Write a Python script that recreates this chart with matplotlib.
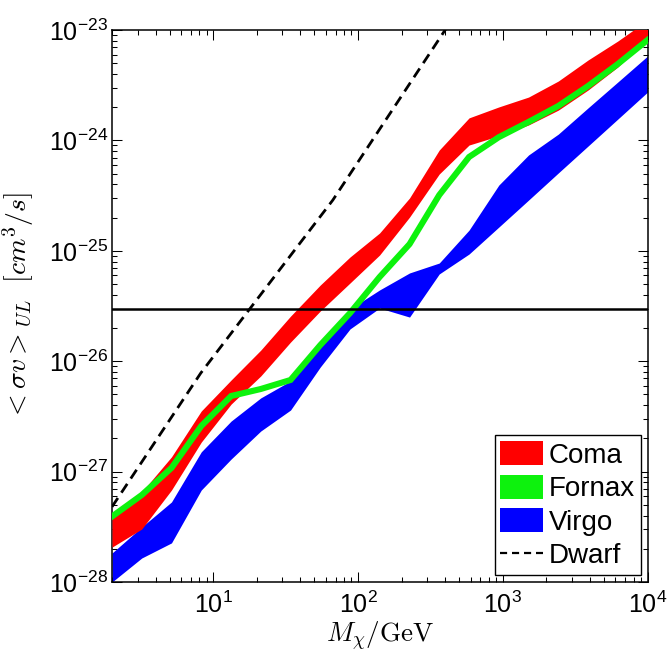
import matplotlib
matplotlib.use("Agg")
import matplotlib.pyplot as plt
from matplotlib.patches import Patch
from matplotlib.lines import Line2D

plt.rcParams['font.family'] = ['Liberation Sans', 'DejaVu Sans']
plt.rcParams['mathtext.fontset'] = 'custom'
plt.rcParams['mathtext.rm'] = 'Liberation Sans'
plt.rcParams['mathtext.it'] = 'Liberation Sans:italic'
plt.rcParams['mathtext.bf'] = 'Liberation Sans:bold'

# Dark matter mass grid (GeV)
mass = [2, 3.21, 5.15, 8.27, 13.3, 21.3, 34.2, 54.9, 88.1, 141, 227, 364,
        585, 939, 1507, 2418, 3881, 6230, 10000]

coma_upper = [3.80e-28, 6.53e-28, 1.36e-27, 3.54e-27, 6.76e-27, 1.26e-26,
              2.56e-26, 4.90e-26, 8.79e-26, 1.45e-25, 3.01e-25, 8.18e-25,
              1.60e-24, 2.01e-24, 2.47e-24, 3.45e-24, 5.35e-24, 7.95e-24, 1.23e-23]
coma_lower = [2.07e-28, 3.02e-28, 6.81e-28, 1.85e-27, 4.09e-27, 7.35e-27,
              1.49e-26, 2.85e-26, 5.11e-26, 9.16e-26, 2.02e-25, 4.96e-25,
              9.08e-25, 1.10e-24, 1.38e-24, 1.88e-24, 2.86e-24, 4.62e-24, 8.47e-24]

fornax = [3.92e-28, 6.14e-28, 1.08e-27, 2.59e-27, 4.84e-27, 5.60e-27,
          6.76e-27, 1.40e-26, 2.73e-26, 5.79e-26, 1.15e-25, 3.20e-25,
          7.08e-25, 1.07e-24, 1.47e-24, 2.05e-24, 3.11e-24, 4.92e-24, 8.12e-24]

virgo_upper = [1.83e-28, 3.15e-28, 5.31e-28, 1.51e-27, 2.87e-27, 4.65e-27,
               6.62e-27, 1.46e-26, 2.97e-26, 4.42e-26, 6.30e-26, 7.75e-26,
               1.54e-25, 3.94e-25, 7.38e-25, 1.14e-24, 1.97e-24, 3.38e-24, 5.81e-24]
virgo_lower = [1.00e-28, 1.65e-28, 2.26e-28, 6.81e-28, 1.30e-27, 2.33e-27,
               3.61e-27, 8.86e-27, 1.96e-26, 3.03e-26, 2.51e-26, 6.17e-26,
               9.35e-26, 1.64e-25, 2.88e-25, 5.07e-25, 8.89e-25, 1.56e-24, 2.74e-24]

dwarf_mass = [2, 8.2, 67, 500]
dwarf_sv = [4.8e-28, 7.8e-27, 2.88e-25, 1.56e-23]

thermal = 3e-26

x_ticks = [10, 100, 1000, 10000]
y_ticks = [1e-28, 1e-27, 1e-26, 1e-25, 1e-24, 1e-23]

GREEN = (0.05, 0.95, 0.05)

fig = plt.figure(figsize=(6.7, 6.54), dpi=100)
ax = fig.add_axes([0.1672, 0.1101, 0.7993, 0.844])

ax.fill_between(mass, virgo_lower, virgo_upper, color=(0, 0, 1), lw=0, zorder=2)
ax.fill_between(mass, coma_lower, coma_upper, color=(1, 0, 0), lw=0, zorder=3)
ax.plot(mass, fornax, color=GREEN, lw=4.4, zorder=4, solid_joinstyle='miter')
ax.axhline(thermal, color='black', lw=1.8, zorder=5)
ax.plot(dwarf_mass, dwarf_sv, color='black', lw=2.0, ls=(0, (3.8, 2.3)), zorder=6)

ax.set_xscale('log')
ax.set_yscale('log')
ax.set_xlim(2, 1e4)
ax.set_ylim(1e-28, 1e-23)
ax.set_xticks(x_ticks)
ax.set_yticks(y_ticks)

ax.tick_params(which='both', direction='in', top=True, right=True, width=0.75,
               labelsize=18)
ax.tick_params(which='major', length=7)
ax.tick_params(axis='x', which='major', pad=7)
ax.tick_params(axis='y', which='major', pad=3)
ax.tick_params(which='minor', length=3.5)
for s in ax.spines.values():
    s.set_linewidth(1.1)

ax.set_xlabel(r'$M_\chi/\mathrm{GeV}$', fontsize=19.5, math_fontfamily='cm',
              labelpad=1.5)
ax.set_ylabel(r'$<\sigma v>_{UL}\ \ [cm^3/s]$', fontsize=20, math_fontfamily='cm')
ax.yaxis.set_label_coords(-0.142, 0.5)

handles = [Patch(facecolor=(1, 0, 0), edgecolor='none', label='Coma'),
           Patch(facecolor=GREEN, edgecolor='none', label='Fornax'),
           Patch(facecolor=(0, 0, 1), edgecolor='none', label='Virgo'),
           Line2D([], [], color='black', lw=1.6, ls=(0, (3.2, 2.2)), label='Dwarf')]
leg = ax.legend(handles=handles, loc='lower right', fontsize=20, frameon=True,
                fancybox=False, edgecolor='black', framealpha=1,
                borderpad=0.2, handlelength=1.55, handleheight=0.95,
                handletextpad=0.2, labelspacing=0.22, borderaxespad=0.25)
leg.get_frame().set_linewidth(1.0)
leg.set_zorder(10)

fig.savefig('out.png', dpi=100)
